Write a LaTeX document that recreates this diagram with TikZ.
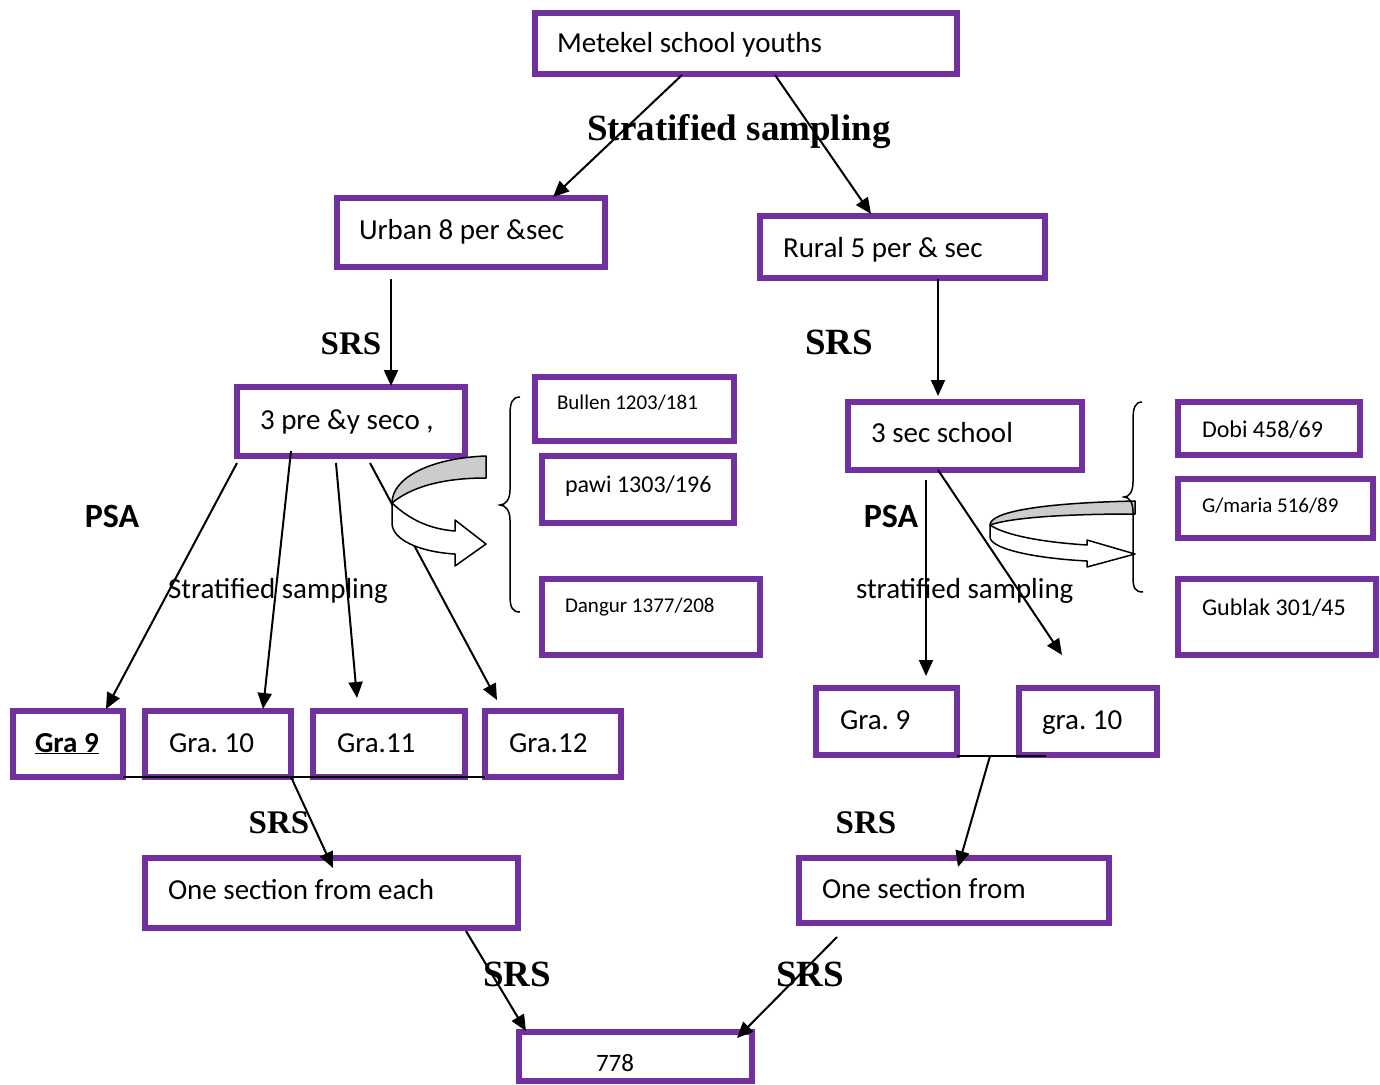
\documentclass[tikz,border=0pt]{standalone}
\usepackage{fontspec}
\setmainfont{Carlito}
\newfontfamily\tnr{Liberation Serif}
\usetikzlibrary{arrows.meta,calc}
\definecolor{boxpurple}{RGB}{112,48,160}
\definecolor{ribbongray}{RGB}{204,204,204}
\frenchspacing
\tikzset{
  bx/.style={draw=boxpurple, line width=5.5pt, fill=white, inner sep=0pt, outer sep=0pt, anchor=north west},
  txt/.style={inner sep=0pt, outer sep=0pt, anchor=base west, font=\fontsize{29}{30}\selectfont},
  smalltxt/.style={inner sep=0pt, outer sep=0pt, anchor=base west, font=\fontsize{21}{22}\selectfont},
  midtxt/.style={inner sep=0pt, outer sep=0pt, anchor=base west, font=\fontsize{24}{25}\selectfont},
  lab/.style={inner sep=0pt, outer sep=0pt, anchor=base, font=\tnr\bfseries\fontsize{33}{34}\selectfont},
  biglab/.style={inner sep=0pt, outer sep=0pt, anchor=base, font=\tnr\bfseries\fontsize{37}{38}\selectfont},
  psa/.style={inner sep=0pt, outer sep=0pt, anchor=base, font=\bfseries\fontsize{34}{35}\selectfont},
  arr/.style={line width=2pt, -{Triangle[length=16pt,width=14pt]}},
  conn/.style={line width=2pt},
  ribbon/.style={draw=black, line width=1.5pt, line join=round},
}
\begin{document}
\begin{tikzpicture}[x=1pt,y=-1pt]
\useasboundingbox (0,0) rectangle (1380,1084);

% boxes
\node[bx, minimum width=422pt, minimum height=61pt] (met) at (535,13) {};
\node[bx, minimum width=268pt, minimum height=69pt] (urb) at (337,198) {};
\node[bx, minimum width=285pt, minimum height=62pt] (rur) at (760,216) {};
\node[bx, minimum width=228pt, minimum height=69pt] (pre) at (237,387) {};
\node[bx, minimum width=199pt, minimum height=64pt] (bul) at (535,377) {};
\node[bx, minimum width=192pt, minimum height=67pt] (paw) at (542,456) {};
\node[bx, minimum width=218pt, minimum height=76pt] (dan) at (542,579) {};
\node[bx, minimum width=234pt, minimum height=68pt] (sec) at (848,402) {};
\node[bx, minimum width=182pt, minimum height=53pt] (dob) at (1178,402) {};
\node[bx, minimum width=195pt, minimum height=59pt] (gma) at (1178,479) {};
\node[bx, minimum width=198pt, minimum height=76pt] (gub) at (1178,579) {};
\node[bx, minimum width=110pt, minimum height=66pt] (g9) at (13,711) {};
\node[bx, minimum width=146pt, minimum height=66pt] (g10) at (145,711) {};
\node[bx, minimum width=152pt, minimum height=66pt] (g11) at (313,711) {};
\node[bx, minimum width=136pt, minimum height=66pt] (g12) at (485,711) {};
\node[bx, minimum width=141pt, minimum height=67pt] (r9) at (816,688) {};
\node[bx, minimum width=138pt, minimum height=67pt] (r10) at (1019,688) {};
\node[bx, minimum width=373pt, minimum height=70pt] (oneL) at (145,858) {};
\node[bx, minimum width=310pt, minimum height=65pt] (oneR) at (799,858) {};
\node[bx, minimum width=233pt, minimum height=49pt] (tot) at (519,1032) {};

% box texts
\node[txt] (met-t) at (557,52) {Metekel school youths};
\node[txt] (urb-t) at (359,239) {Urban 8 per \&sec};
\node[txt] (rur-t) at (783,257) {Rural 5 per \& sec};
\node[txt] (pre-t) at (260,429) {3 pre \&y seco ,};
\node[smalltxt] (bul-t) at (557,409) {Bullen 1203/181};
\node[midtxt] (paw-t) at (565,492) {pawi 1303/196};
\node[smalltxt] (dan-t) at (565,612) {Dangur 1377/208};
\node[txt] (sec-t) at (871,442) {3 sec school};
\node[midtxt] (dob-t) at (1202,437) {Dobi 458/69};
\node[smalltxt] (gma-t) at (1202,512) {G/maria 516/89};
\node[midtxt] (gub-t) at (1202,615) {Gublak 301/45};
\node[txt] (g9-t) at (35,752) {\bfseries\underline{Gra 9}};
\node[txt] (g10-t) at (169,752) {Gra. 10};
\node[txt] (g11-t) at (337,752) {Gra.11};
\node[txt] (g12-t) at (509,752) {Gra.12};
\node[txt] (r9-t) at (840,729) {Gra. 9};
\node[txt] (r10-t) at (1042,729) {gra. 10};
\node[txt] (oneL-t) at (168,899) {One section from each};
\node[txt] (oneR-t) at (822,898) {One section from};
\node[inner sep=0pt, anchor=base, font=\fontsize{25}{26}\selectfont] (tot-t) at (615,1071) {778};

% connectors
\draw[arr] ($(met.south west)+(147,1)$) -- ($(urb.north west)+(216,-1)$);
\draw[arr] ($(met.south west)+(240,1)$) -- ($(rur.north west)+(111,-2)$);
\draw[arr] ($(urb.south west)+(54,12)$) -- ($(pre.north west)+(154,-1)$);
\draw[arr] ($(rur.south west)+(178,1)$) -- ($(sec.north west)+(90,-6)$);
\draw[arr] ($(pre.south west)+(0,7)$) -- ($(g9.north west)+(93,-2)$);
\draw[arr] ($(pre.south west)+(54,-5)$) -- ($(g10.north west)+(118,-2)$);
\draw[arr] ($(pre.south west)+(99,7)$) -- ($(g11.north west)+(44,-13)$);
\draw[arr] ($(pre.south west)+(133,7)$) -- ($(g12.north west)+(12,-11)$);
\draw[arr] ($(sec.south west)+(78,10)$) -- ($(r9.north west)+(110,-12)$);
\coordinate (c10) at ($(r10.north west)+(43,-33)$);
\draw[conn] (g9.south east) -- (g12.south west);
\draw[arr] (g10.south east) -- ($(oneL.north west)+(188,10)$);
\coordinate (rjoin) at ($(r10.south west)+(27,1)$);
\draw[conn] ($(r9.south east)+(0,1)$) -- (rjoin);
\draw[arr] ($(r9.south east)+(33,1)$) -- ($(oneR.north west)+(159,9)$);
\draw[arr] ($(oneL.south west)+(321,3)$) -- ($(tot.north west)+(7,-1)$);
\draw[arr] ($(oneR.south west)+(38,14)$) -- ($(tot.north east)+(-15,6)$);

% left ribbon arrow
\draw[ribbon, fill=white] (392,503) .. controls (410,520) and (430,529) .. (455,531) -- (455,520) -- (486,544) -- (455,566) -- (455,554) .. controls (420,552) and (392,540) .. (392,523) -- cycle;
\draw[ribbon, fill=ribbongray] (486,456) .. controls (430,458) and (392,478) .. (392,503) .. controls (410,488) and (440,478) .. (486,478) -- cycle;

% right ribbon arrow
\draw[ribbon, fill=white] (990,525) .. controls (1005,535) and (1040,542) .. (1087,545) -- (1087,540) -- (1135,554) -- (1087,567) -- (1087,561) .. controls (1030,558) and (990,548) .. (990,537) -- cycle;
\draw[ribbon, fill=ribbongray] (1135,501) .. controls (1040,503) and (990,512) .. (990,525) .. controls (1010,518) and (1060,514) .. (1135,514) -- cycle;
\draw[arr] ($(sec.south west)+(90,0)$) -- (c10);

% braces
\draw[line width=1.5pt] (520,397) .. controls (512,397) and (510,403) .. (510,415) -- (510,490) .. controls (510,500) and (505,505) .. (500,505) .. controls (505,505) and (510,510) .. (510,520) -- (510,595) .. controls (510,607) and (512,612) .. (520,612);
\draw[line width=1.5pt] (1142,402) .. controls (1135,402) and (1133,408) .. (1133,420) -- (1133,482) .. controls (1133,492) and (1129,497) .. (1124,497) .. controls (1129,497) and (1133,502) .. (1133,512) -- (1133,577) .. controls (1133,588) and (1135,592) .. (1143,592);

% labels
\node[biglab] (l-strat) at (739,140) {Stratified sampling};
\node[lab] (l-srs1) at (351,354) {SRS};
\node[biglab] (l-srs2) at (839,354) {SRS};
\node[psa] (l-psa1) at (112,527) {PSA};
\node[psa] (l-psa2) at (891,527) {PSA};
\node[txt] (l-st1) at (168,598) {Stratified sampling};
\node[txt] (l-st2) at (856,598) {stratified sampling};
\node[lab] (l-srs3) at (279,833) {SRS};
\node[lab] (l-srs4) at (866,833) {SRS};
\node[biglab] (l-srs5) at (517,986) {SRS};
\node[biglab] (l-srs6) at (810,986) {SRS};
\end{tikzpicture}
\end{document}
